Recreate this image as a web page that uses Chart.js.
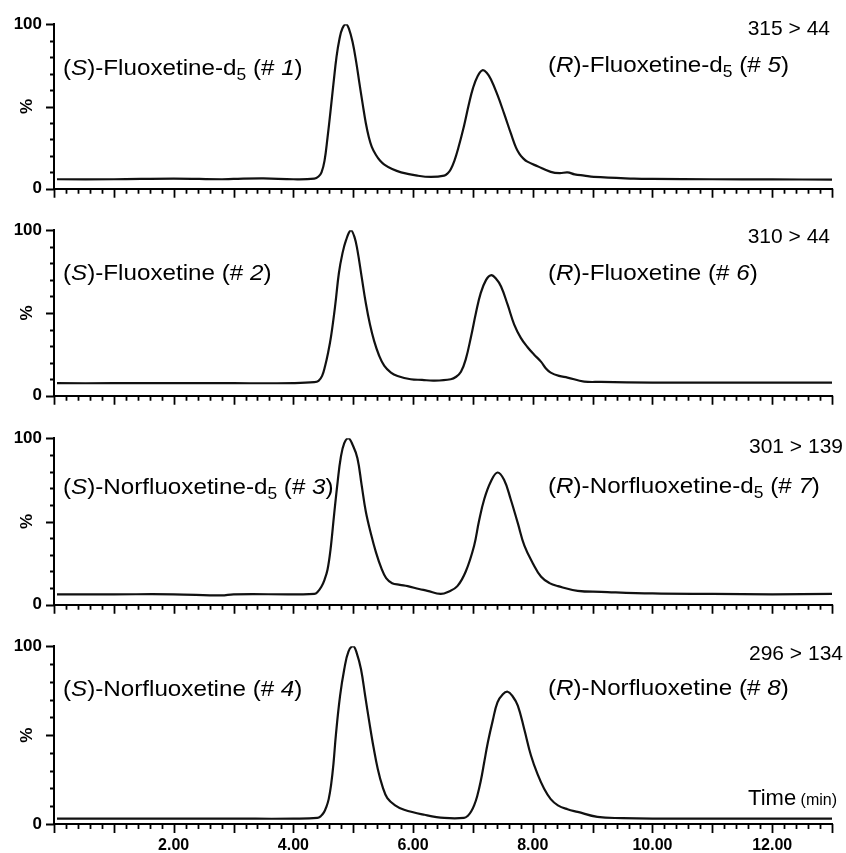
<!DOCTYPE html>
<html>
<head>
<meta charset="utf-8">
<script src="https://cdn.jsdelivr.net/npm/chart.js@4.4.0/dist/chart.umd.min.js"></script>
<style>
  body { margin: 0; background: #fff; }
  #wrap { position: relative; width: 846px; height: 853px; overflow: hidden; }
  #wrap canvas { position: absolute; left: 0; }
</style>
</head>
<body>
<div id="wrap"></div>
<script>
// retention time (min) and relative intensity (%)
var time315 = [0.05, 1.0, 2.0, 2.8, 3.0, 3.5, 4.0, 4.35, 4.42, 4.47, 4.52, 4.57, 4.62, 4.67, 4.72, 4.77, 4.82, 4.88, 4.93, 4.99, 5.05, 5.10, 5.16, 5.21, 5.26, 5.31, 5.38, 5.45, 5.52, 5.65, 5.80, 6.07, 6.30, 6.52, 6.58, 6.63, 6.69, 6.75, 6.85, 6.93, 7.00, 7.08, 7.16, 7.23, 7.30, 7.41, 7.52, 7.64, 7.72, 7.78, 7.84, 7.91, 8.08, 8.30, 8.45, 8.58, 8.70, 8.86, 9.02, 9.69, 10.0, 11.0, 12.0, 13.0];
var int315 = [5.8, 5.8, 6.2, 5.8, 6.0, 6.3, 5.8, 6.2, 7.5, 10, 17, 31, 47, 64, 80, 91, 97.5, 100, 97, 89, 77, 65, 51, 40, 31.5, 25.5, 20.5, 17, 14.7, 12, 10, 8, 7.2, 8, 9.5, 11.9, 17, 24, 38, 51, 61, 68.5, 72, 70.5, 66.5, 57, 45.8, 33, 25, 21, 18.5, 16.5, 13.7, 10.3, 9.5, 10, 8.8, 8, 7.2, 6.2, 6.0, 5.8, 5.7, 5.6];

var time310 = [0.05, 1.0, 2.0, 3.0, 4.0, 4.35, 4.42, 4.48, 4.53, 4.58, 4.63, 4.70, 4.76, 4.82, 4.88, 4.96, 5.02, 5.07, 5.14, 5.21, 5.28, 5.35, 5.43, 5.52, 5.63, 5.74, 5.96, 6.15, 6.35, 6.63, 6.72, 6.80, 6.88, 6.97, 7.05, 7.13, 7.22, 7.30, 7.38, 7.47, 7.58, 7.69, 7.80, 7.91, 8.02, 8.14, 8.22, 8.30, 8.44, 8.58, 8.86, 9.14, 10.0, 11.0, 12.0, 13.0];
var int310 = [7.6, 7.6, 7.7, 7.6, 7.7, 8.2, 9, 12, 18, 26, 36, 55, 74, 86, 94, 100, 96, 88, 72, 56, 43, 33, 24.5, 18, 14, 12, 10, 9.6, 9.2, 10, 11.5, 14.5, 22, 36, 50, 62, 70, 72.8, 71, 66, 55, 43, 35, 29.5, 25, 20.5, 16.5, 14, 12, 11, 8.6, 8.4, 8.0, 8.0, 7.9, 8.0];

var time301 = [0.05, 1.0, 2.0, 2.8, 3.0, 4.0, 4.35, 4.40, 4.47, 4.52, 4.57, 4.62, 4.68, 4.74, 4.79, 4.85, 4.92, 4.99, 5.07, 5.14, 5.21, 5.30, 5.38, 5.47, 5.55, 5.65, 5.78, 5.91, 6.10, 6.24, 6.46, 6.60, 6.74, 6.88, 7.02, 7.10, 7.19, 7.30, 7.41, 7.52, 7.63, 7.75, 7.86, 8.00, 8.14, 8.28, 8.42, 8.75, 9.14, 10.0, 11.0, 12.0, 13.0];
var int301 = [6.3, 6.3, 6.3, 5.6, 6.3, 6.3, 6.5, 7.5, 11, 15, 21, 33, 54, 74, 88, 97, 100, 96, 88, 72, 56, 42, 31.5, 22, 16, 13, 12, 11.2, 9.5, 8.4, 6.5, 8, 11.2, 20, 35.5, 50, 63.5, 74, 79.4, 75, 63.5, 49, 35.5, 25, 16.8, 13, 11.2, 8.4, 7.8, 6.8, 6.5, 6.3, 6.5];

var time296 = [0.05, 1.0, 2.0, 3.0, 4.0, 4.40, 4.46, 4.51, 4.55, 4.59, 4.63, 4.67, 4.71, 4.78, 4.85, 4.92, 5.00, 5.06, 5.13, 5.20, 5.27, 5.34, 5.41, 5.49, 5.57, 5.70, 5.85, 6.19, 6.52, 6.85, 6.92, 6.97, 7.02, 7.07, 7.13, 7.19, 7.25, 7.33, 7.41, 7.50, 7.58, 7.66, 7.75, 7.86, 7.97, 8.08, 8.19, 8.30, 8.42, 8.58, 8.75, 9.08, 9.5, 10.0, 11.0, 12.0, 13.0];
var int296 = [3, 3, 3, 3, 3, 3.4, 4.5, 6.5, 9.5, 14, 22, 34, 50, 72, 87, 97, 100, 96, 87, 72, 57, 43, 31, 21, 14.6, 10.5, 8, 5.2, 3.4, 3.4, 4.8, 7, 10.5, 15.5, 24, 35, 46, 58, 68.4, 73, 74.4, 72, 66.6, 53, 38.5, 28, 19.8, 14, 10.5, 8.3, 6.8, 4, 3.3, 3, 3, 3, 3];

var transitions = ["315 > 44", "310 > 44", "301 > 139", "296 > 134"];
var sLabels = ["(<i>S</i>)-Fluoxetine-d<sub>5</sub> (# <i>1</i>)", "(<i>S</i>)-Fluoxetine (# <i>2</i>)", "(<i>S</i>)-Norfluoxetine-d<sub>5</sub> (# <i>3</i>)", "(<i>S</i>)-Norfluoxetine (# <i>4</i>)"];
var rLabels = ["(<i>R</i>)-Fluoxetine-d<sub>5</sub> (# <i>5</i>)", "(<i>R</i>)-Fluoxetine (# <i>6</i>)", "(<i>R</i>)-Norfluoxetine-d<sub>5</sub> (# <i>7</i>)", "(<i>R</i>)-Norfluoxetine (# <i>8</i>)"];
var xLabelTicks = [2, 4, 6, 8, 10, 12];
var yLabelTicks = [0, 50, 100];

var series = [[time315, int315], [time310, int310], [time301, int301], [time296, int296]];

// page layout of the four stacked panels (pixels)
var panelTop = [24, 230, 438, 646];
var panelBottom = [201, 408, 617, 824];
var labelY = [[51, 48, 11], [50, 50, 13], [56, 55, 15], [50, 49, 14]];
var transRight = [830, 830, 843, 843];
var FONT = '"Liberation Sans", Arial, Helvetica, sans-serif';

var wrap = document.getElementById("wrap");

// minor / major tick marks on both axes
var axisTicks = {
  id: "axisTicks",
  afterDraw: function (chart) {
    var ctx = chart.ctx;
    var xs = chart.scales.x;
    var ys = chart.scales.y;
    var area = chart.chartArea;
    ctx.save();
    ctx.strokeStyle = "#000";
    ctx.lineWidth = 1.8;
    ctx.beginPath();
    for (var k = 0; k <= 65; k++) {
      var px = Math.round(xs.getPixelForValue(k * 0.2)) + 0.5;
      var len = k % 5 === 0 ? 9 : 5;
      ctx.moveTo(px, area.bottom);
      ctx.lineTo(px, area.bottom + len);
    }
    for (var v = 0; v <= 100; v += 10) {
      var py = Math.round(ys.getPixelForValue(v)) + 0.5;
      var l = v % 50 === 0 ? 8 : 4;
      ctx.moveTo(area.left, py);
      ctx.lineTo(area.left - l, py);
    }
    ctx.stroke();
    ctx.restore();
  }
};

function parseRich(str) {
  var out = [];
  str.split(/(<i>.*?<\/i>|<sub>.*?<\/sub>)/).forEach(function (p) {
    if (!p) return;
    if (p.indexOf("<i>") === 0) out.push({ text: p.slice(3, -4), it: true });
    else if (p.indexOf("<sub>") === 0) out.push({ text: p.slice(5, -6), sub: true });
    else out.push({ text: p });
  });
  return out;
}

function drawRich(ctx, str, x, y, size, sx) {
  var cx = 0;
  ctx.save();
  ctx.translate(x, y);
  ctx.scale(sx, 1);
  ctx.textAlign = "left";
  ctx.textBaseline = "alphabetic";
  parseRich(str).forEach(function (s) {
    var fs = s.sub ? size * 0.72 : size;
    ctx.font = (s.it ? "italic " : "") + fs + "px " + FONT;
    ctx.fillText(s.text, cx, s.sub ? size * 0.22 : 0);
    cx += ctx.measureText(s.text).width;
  });
  ctx.restore();
}

var panelText = {
  id: "panelText",
  afterDraw: function (chart, args, opts) {
    var i = opts.index;
    var ctx = chart.ctx;
    var area = chart.chartArea;
    ctx.save();
    ctx.fillStyle = "#000";
    drawRich(ctx, sLabels[i], 63, area.top + labelY[i][0], 22, 1.1);
    drawRich(ctx, rLabels[i], 548, area.top + labelY[i][1], 22, 1.1);
    ctx.font = "21px " + FONT;
    ctx.textAlign = "right";
    ctx.textBaseline = "alphabetic";
    ctx.fillText(transitions[i], transRight[i], area.top + labelY[i][2]);
    if (i === 3) {
      ctx.font = "16px " + FONT;
      ctx.fillText("(min)", 837, area.top + 159);
      var w = ctx.measureText(" (min)").width;
      ctx.font = "22px " + FONT;
      ctx.fillText("Time", 837 - w, area.top + 159);
    }
    ctx.restore();
  }
};

for (var i = 0; i < 4; i++) makePanel(i);

function makePanel(i) {
  var last = i === 3;
  var xH = last ? 853 - panelBottom[i] : 10;
  var top = panelTop[i] - 22;
  var h = panelBottom[i] - top + xH;
  var canvas = document.createElement("canvas");
  canvas.width = 846;
  canvas.height = h;
  canvas.style.top = top + "px";
  canvas.style.width = "846px";
  canvas.style.height = h + "px";
  wrap.appendChild(canvas);

  var pts = series[i][0].map(function (t, k) {
    return { x: t, y: series[i][1][k] };
  });

  new Chart(canvas.getContext("2d"), {
    type: "line",
    data: {
      datasets: [
        {
          data: pts,
          borderColor: "#111",
          borderWidth: 2.2,
          pointRadius: 0,
          tension: 0.4,
          fill: false,
        },
      ],
    },
    options: {
      responsive: false,
      animation: false,
      events: [],
      layout: { padding: { top: 22, right: 14, bottom: 0, left: 0 } },
      plugins: {
        legend: { display: false },
        tooltip: { enabled: false },
        panelText: { index: i },
      },
      scales: {
        x: {
          type: "linear",
          min: 0,
          max: 13,
          grid: { display: false, drawTicks: false },
          border: { display: true, color: "#000", width: 2 },
          afterBuildTicks: function (s) {
            s.ticks = xLabelTicks.map(function (v) { return { value: v }; });
          },
          afterFit: function (s) { s.height = xH; },
          ticks: {
            display: last,
            padding: 12,
            color: "#000",
            maxRotation: 0,
            font: { family: FONT, size: 16, weight: "bold" },
            callback: function (v) { return v.toFixed(2); },
          },
        },
        y: {
          min: 0,
          max: 100,
          grid: { display: false, drawTicks: false },
          border: { display: true, color: "#000", width: 2 },
          afterBuildTicks: function (s) {
            s.ticks = yLabelTicks.map(function (v) { return { value: v }; });
          },
          afterFit: function (s) { s.width = 54; },
          ticks: {
            padding: 12,
            color: "#000",
            font: { family: FONT, size: 17, weight: "bold" },
            callback: function (v) { return v === 50 ? "" : String(v); },
          },
          title: {
            display: true,
            text: "%",
            color: "#000",
            font: { family: FONT, size: 17, weight: "bold" },
            padding: { top: 17, bottom: 0 },
          },
        },
      },
    },
    plugins: [axisTicks, panelText],
  });
}
</script>
</body>
</html>
